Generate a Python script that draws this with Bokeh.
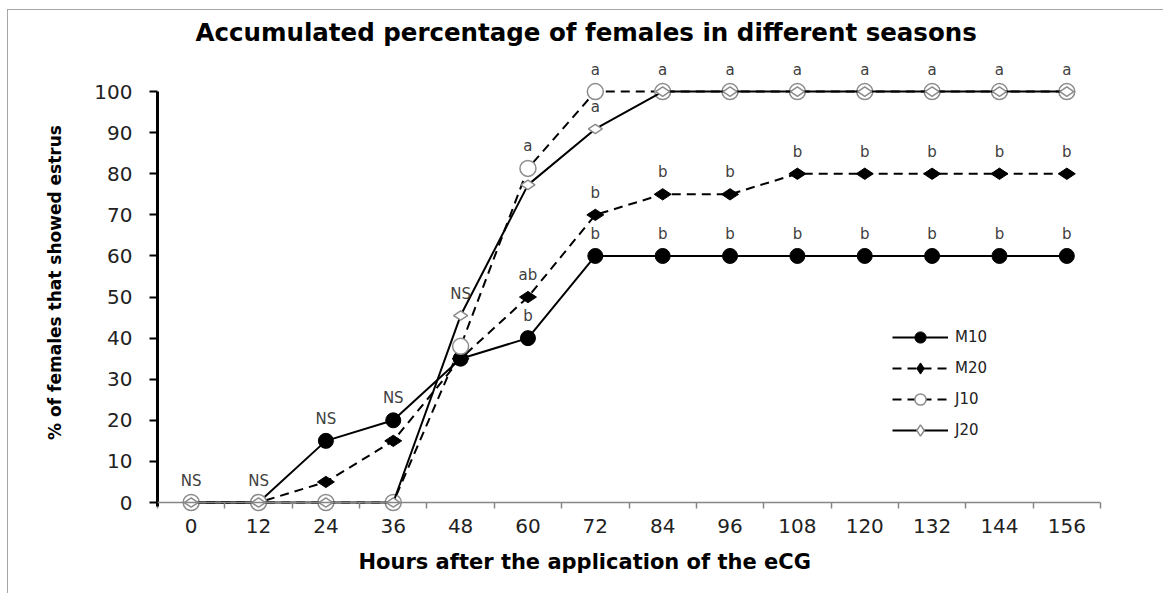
import math
from bokeh.plotting import figure
from bokeh.models import Range1d, FixedTicker, Legend, LegendItem, Title, Span
from bokeh.core.properties import value
from bokeh.embed import file_html
from bokeh.resources import INLINE

# ---- data ----
hours = [0, 12, 24, 36, 48, 60, 72, 84, 96, 108, 120, 132, 144, 156]
m10 = [0, 0, 15, 20, 35, 40, 60, 60, 60, 60, 60, 60, 60, 60]
m20 = [0, 0, 5, 15, 35, 50, 70, 75, 75, 80, 80, 80, 80, 80]
j10 = [0, 0, 0, 0, 38, 81.3, 100, 100, 100, 100, 100, 100, 100, 100]
j20 = [0, 0, 0, 0, 45.5, 77.3, 90.9, 100, 100, 100, 100, 100, 100, 100]

# significance letters: hour, value of the point they sit over, text
sig_hours = [0, 12, 24, 36, 48,
             60, 60, 60,
             72, 72, 72, 72,
             84, 84, 84, 96, 96, 96, 108, 108, 108, 120, 120, 120,
             132, 132, 132, 144, 144, 144, 156, 156, 156]
sig_values = [0, 0, 15, 20, 45.5,
              81.3, 50, 40,
              100, 90.9, 70, 60,
              100, 75, 60, 100, 75, 60, 100, 80, 60, 100, 80, 60,
              100, 80, 60, 100, 80, 60, 100, 80, 60]
sig_text = ["NS", "NS", "NS", "NS", "NS",
            "a", "ab", "b",
            "a", "a", "b", "b",
            "a", "b", "b", "a", "b", "b", "a", "b", "b", "a", "b", "b",
            "a", "b", "b", "a", "b", "b", "a", "b", "b"]

y_ticks = [0, 10, 20, 30, 40, 50, 60, 70, 80, 90, 100]
boundaries = [-6, 6, 18, 30, 42, 54, 66, 78, 90, 102, 114, 126, 138, 150, 162]

FONT = "DejaVu Sans"

p = figure(frame_width=943, frame_height=464,
           x_range=Range1d(-6, 162), y_range=Range1d(-2.92, 110),
           output_backend="svg", toolbar_location=None,
           min_border_left=149, min_border_right=64,
           min_border_top=40, min_border_bottom=80)
p.margin = (10, 0, 0, 8)
p.styles = {"box-shadow": "-1px -1px 0 0 #a6a6a6"}
p.grid.visible = False
p.outline_line_color = None
p.background_fill_color = "white"
p.border_fill_color = "white"

# title
p.title.text = "Accumulated percentage of females in different seasons"
p.title.align = "left"
p.title.offset = 38
p.title.text_font = FONT
p.title.text_font_style = "bold"
p.title.text_font_size = "24.5px"
p.title.text_color = "black"
p.title.standoff = 8

# x axis (labels at frame bottom, axis rule drawn at y = 0)
xa = p.xaxis[0]
xa.ticker = FixedTicker(ticks=hours, minor_ticks=boundaries)
xa.axis_line_color = None
xa.major_tick_line_color = None
xa.major_tick_out = 0
xa.major_tick_in = 0
xa.minor_tick_line_color = "#868686"
xa.minor_tick_line_width = 1.5
xa.minor_tick_in = 12
xa.minor_tick_out = -6
xa.major_label_text_font = FONT
xa.major_label_text_font_size = "20px"
xa.major_label_text_color = "#222222"
xa.major_label_standoff = 4
p.add_layout(Span(location=0, dimension="width", line_color="#868686", line_width=1.5))

p.add_layout(Title(text="Hours after the application of the eCG", align="left",
                   offset=201, text_font=FONT, text_font_style="bold",
                   text_font_size="21px", text_color="black", standoff=25), "below")

# y axis
ya = p.yaxis[0]
ya.ticker = FixedTicker(ticks=y_ticks, minor_ticks=[])
ya.bounds = (-1, 100)
ya.axis_line_color = "black"
ya.axis_line_width = 3
ya.major_tick_line_color = "black"
ya.major_tick_line_width = 2
ya.major_tick_out = 8
ya.major_tick_in = 0
ya.minor_tick_line_color = None
ya.major_label_text_font = FONT
ya.major_label_text_font_size = "20px"
ya.major_label_text_color = "#222222"
ya.major_label_standoff = 17
ya.axis_label = "% of females that showed estrus"
ya.axis_label_text_font = FONT
ya.axis_label_text_font_style = "bold"
ya.axis_label_text_font_size = "17px"
ya.axis_label_text_color = "black"
ya.axis_label_standoff = 26

# series
DASH = "9 6"
GRAY = "#8c8c8c"
l_m10 = p.line(hours, m10, line_color="black", line_width=2)
s_m10 = p.scatter(hours, m10, marker="circle", size=15, fill_color="black", line_color="black")
l_m20 = p.line(hours, m20, line_color="black", line_width=2, line_dash=DASH)
s_m20 = p.scatter(hours, m20, marker="diamond", angle=math.pi / 2, size=17,
                  fill_color="black", line_color="black")
l_j10 = p.line(hours, j10, line_color="black", line_width=2, line_dash=DASH)
s_j10 = p.scatter(hours, j10, marker="circle", size=16, fill_color="white",
                  line_color=GRAY, line_width=1.5)
l_j20 = p.line(hours, j20, line_color="black", line_width=2)
s_j20 = p.scatter(hours, j20, marker="diamond", angle=math.pi / 2, size=14,
                  fill_color="white", line_color=GRAY, line_width=1.5)

# significance letters
p.text(x=sig_hours, y=sig_values, text=sig_text, y_offset=-22,
       text_align="center", text_baseline="middle",
       text_font=value(FONT), text_font_size="15px", text_color="#404040")

legend = Legend(items=[
    LegendItem(label="M10", renderers=[l_m10, s_m10]),
    LegendItem(label="M20", renderers=[l_m20, s_m20]),
    LegendItem(label="J10", renderers=[l_j10, s_j10]),
    LegendItem(label="J20", renderers=[l_j20, s_j20]),
], location=(735, 70), padding=0, margin=0, spacing=3,
    glyph_width=56, glyph_height=28, label_height=28, label_standoff=7,
    border_line_color=None, background_fill_alpha=0,
    label_text_font=FONT, label_text_font_size="15px", label_text_color="#222222")
p.add_layout(legend)

open("out.html", "w").write(file_html(p, INLINE))
